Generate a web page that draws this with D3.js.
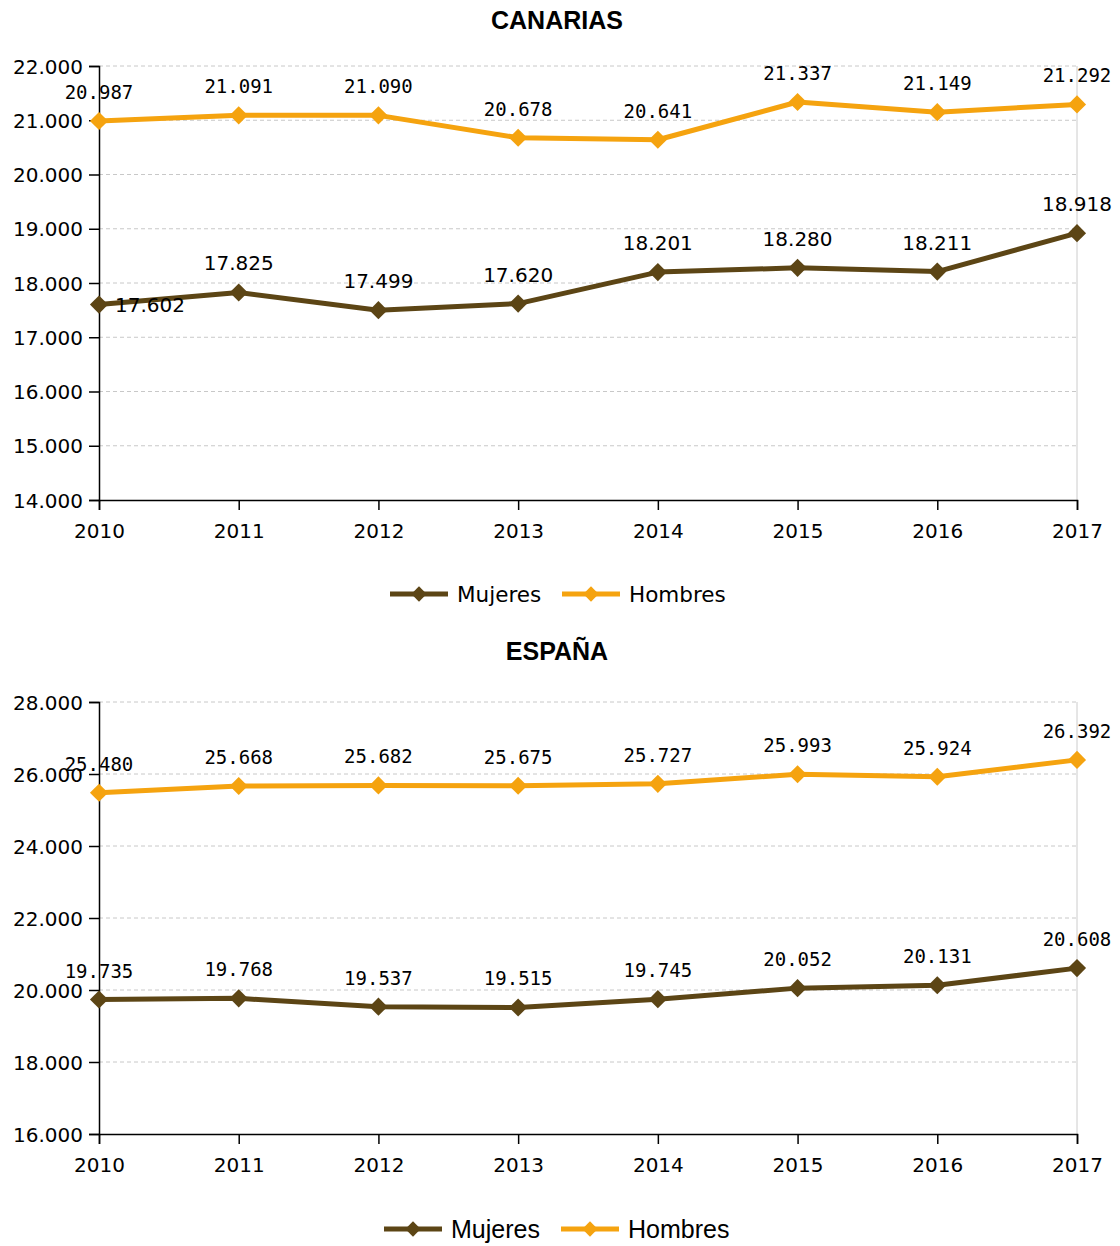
<!DOCTYPE html>
<html>
<head>
<meta charset="utf-8">
<script src="https://cdn.jsdelivr.net/npm/d3@7"></script>
<style>
  body { margin: 0; background: #fff; }
  svg { display: block; }
</style>
</head>
<body>
<div id="chart"></div>
<script>
const years = [2010, 2011, 2012, 2013, 2014, 2015, 2016, 2017];

const canariasMujeres = [17602, 17825, 17499, 17620, 18201, 18280, 18211, 18918];
const canariasHombres = [20987, 21091, 21090, 20678, 20641, 21337, 21149, 21292];

const espanaMujeres = [19735, 19768, 19537, 19515, 19745, 20052, 20131, 20608];
const espanaHombres = [25480, 25668, 25682, 25675, 25727, 25993, 25924, 26392];

const canariasTicks = [14000, 15000, 16000, 17000, 18000, 19000, 20000, 21000, 22000];
const espanaTicks = [16000, 18000, 20000, 22000, 24000, 26000, 28000];

const seriesNames = ["Mujeres", "Hombres"];
const colors = {Mujeres: "#5c4515", Hombres: "#f5a30f"};

const fmt = v => d3.format(",")(v).replace(/,/g, ".");

const svg = d3.select("#chart").append("svg")
    .attr("width", 1120)
    .attr("height", 1246);

function drawChart(cfg) {
    let g = svg.append("g");

    let x = d3.scalePoint().domain(years).range([99, 1077]);
    let y = d3.scaleLinear().domain(d3.extent(cfg.ticks)).range([cfg.bottom, cfg.top]);

    g.append("text")
        .attr("x", 557).attr("y", cfg.titleY)
        .attr("text-anchor", "middle")
        .style("font-family", "Liberation Sans, Arial, sans-serif")
        .style("font-weight", "bold")
        .style("font-size", "25px")
        .text(cfg.title);

    // grid
    g.selectAll()
        .data(cfg.ticks.slice(1))
        .enter()
        .append("line")
        .attr("x1", 99).attr("x2", 1077)
        .attr("y1", d => y(d)).attr("y2", d => y(d))
        .style("stroke", "#c8c8c8")
        .style("stroke-dasharray", "4,3");

    g.append("line")
        .attr("x1", 1077).attr("x2", 1077)
        .attr("y1", cfg.top).attr("y2", cfg.bottom)
        .style("stroke", "#cccccc");

    let yAxis = g.append("g")
        .attr("transform", "translate(99,0)")
        .call(d3.axisLeft(y).tickValues(cfg.ticks).tickFormat(fmt).tickSize(10).tickPadding(6));
    let xAxis = g.append("g")
        .attr("transform", "translate(0," + cfg.bottom + ")")
        .call(d3.axisBottom(x).tickSize(10).tickPadding(14));

    [yAxis, xAxis].forEach(a => {
        a.select(".domain").attr("stroke", "#000").attr("stroke-width", 1.5);
        a.selectAll(".tick line").attr("stroke", "#000").attr("stroke-width", 1.5);
        a.selectAll("text")
            .attr("fill", "#000")
            .style("font-family", "DejaVu Sans, sans-serif")
            .style("font-size", "20px");
    });
    yAxis.selectAll("text").attr("dy", "0.36em");

    let line = d3.line()
        .x((d, i) => x(years[i]))
        .y(d => y(d));

    let diamond = d3.symbol().type(d3.symbolDiamond2).size(210);

    cfg.series.forEach(s => {
        g.append("path")
            .datum(s.values)
            .attr("d", line)
            .style("fill", "none")
            .style("stroke", colors[s.name])
            .style("stroke-width", 5)
            .style("stroke-linejoin", "round");

        g.selectAll()
            .data(s.values)
            .enter()
            .append("path")
            .attr("d", diamond)
            .attr("transform", (d, i) => "translate(" + x(years[i]) + "," + y(d) + ")")
            .style("fill", colors[s.name]);

        g.selectAll()
            .data(s.values)
            .enter()
            .append("text")
            .attr("x", (d, i) => x(years[i]) + (s.rightFirst && i === 0 ? 51 : 0))
            .attr("y", (d, i) => y(d) + (s.rightFirst && i === 0 ? 7 : -22))
            .attr("text-anchor", "middle")
            .style("font-family", s.font)
            .style("font-size", s.fontSize)
            .style("fill", "#000")
            .text(d => fmt(d));
    });

    // legend
    let lg = g.append("g");
    cfg.legend.forEach(l => {
        lg.append("line")
            .attr("x1", l.x).attr("x2", l.x + 58)
            .attr("y1", cfg.legendY).attr("y2", cfg.legendY)
            .style("stroke", colors[l.name])
            .style("stroke-width", 5);
        lg.append("path")
            .attr("d", d3.symbol().type(d3.symbolDiamond2).size(150))
            .attr("transform", "translate(" + (l.x + 29) + "," + cfg.legendY + ")")
            .style("fill", colors[l.name]);
        lg.append("text")
            .attr("x", l.x + 67)
            .attr("y", cfg.legendY)
            .attr("dy", "0.36em")
            .style("font-family", cfg.legendFont)
            .style("font-size", cfg.legendSize)
            .text(l.name);
    });
}

drawChart({
    title: "CANARIAS", titleY: 29,
    top: 66, bottom: 500,
    ticks: canariasTicks,
    series: [
        {name: "Mujeres", values: canariasMujeres, rightFirst: true, font: "DejaVu Sans, sans-serif", fontSize: "20px"},
        {name: "Hombres", values: canariasHombres, font: "DejaVu Sans Mono, monospace", fontSize: "19px"}
    ],
    legendY: 594,
    legend: [{name: seriesNames[0], x: 390}, {name: seriesNames[1], x: 562}],
    legendFont: "DejaVu Sans, sans-serif", legendSize: "21.5px"
});

drawChart({
    title: "ESPAÑA", titleY: 660,
    top: 702, bottom: 1134,
    ticks: espanaTicks,
    series: [
        {name: "Mujeres", values: espanaMujeres, font: "DejaVu Sans Mono, monospace", fontSize: "19px"},
        {name: "Hombres", values: espanaHombres, font: "DejaVu Sans Mono, monospace", fontSize: "19px"}
    ],
    legendY: 1229,
    legend: [{name: seriesNames[0], x: 384}, {name: seriesNames[1], x: 561}],
    legendFont: "Liberation Sans, Arial, sans-serif", legendSize: "25px"
});
</script>
</body>
</html>
